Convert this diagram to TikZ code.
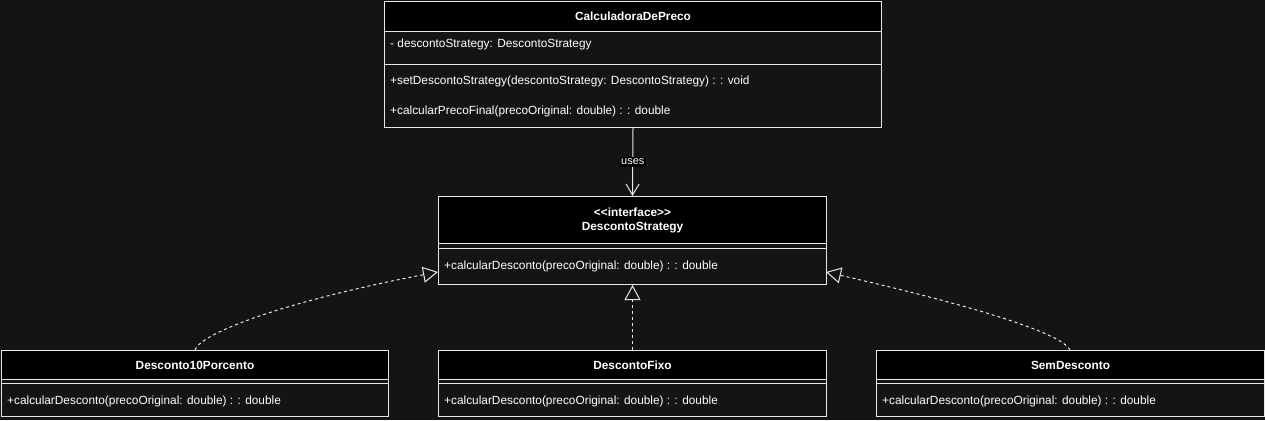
\documentclass[tikz,border=0pt]{standalone}
\usepackage{fontspec}
\setmainfont{Liberation Sans}
\usetikzlibrary{arrows.meta}
\definecolor{bg}{HTML}{141414}
\definecolor{linec}{HTML}{E8E8E8}
\newcommand{\fs}{\fontsize{11.85}{14}\selectfont}
\newcommand{\fss}{\fontsize{11}{13}\selectfont}
\tikzset{
  box/.style={draw=linec, fill=bg, line width=1pt, anchor=north west, inner sep=0pt},
  hdr/.style={draw=linec, fill=black, line width=1pt, anchor=north west, inner sep=0pt, font=\bfseries\fs, text=white, align=center},
  txt/.style={anchor=west, text=white, font=\fs, inner sep=0pt},
  sep/.style={draw=linec, line width=1pt},
  real/.style={draw=linec, line width=1pt, dash pattern=on 3pt off 3pt, -{Triangle[open, length=15pt, width=16pt, fill=bg]}},
  uses/.style={draw=linec, line width=1pt, -{Straight Barb[length=11pt, width=13pt]}},
}
\begin{document}
\begin{tikzpicture}[x=1pt,y=-1pt]
\fill[bg] (0,0) rectangle (1265,420);
\useasboundingbox (0,0) rectangle (1265,420);

% CalculadoraDePreco
\node[box, minimum width=497pt, minimum height=126pt] (calc) at (384,1) {};
\node[hdr, minimum width=497pt, minimum height=30pt] (calcH) at (384,1) {CalculadoraDePreco};
\draw[sep] (384,64) -- (881,64);
\node[txt] (calcA) at (390,44) {- descontoStrategy: DescontoStrategy};
\node[txt] (calcM1) at (390,81) {+setDescontoStrategy(descontoStrategy: DescontoStrategy) : : void};
\node[txt] (calcM2) at (390,111) {+calcularPrecoFinal(precoOriginal: double) : : double};

% DescontoStrategy
\node[box, minimum width=388pt, minimum height=88pt] (strat) at (438,196) {};
\node[hdr, minimum width=388pt, minimum height=47pt] (stratH) at (438,196) {<\kern0pt<\kern0pt interface>\kern0pt>\\DescontoStrategy};
\draw[sep] (438,248) -- (826,248);
\node[txt] (stratM) at (444,266) {+calcularDesconto(precoOriginal: double) : : double};

% Desconto10Porcento
\node[box, minimum width=387pt, minimum height=66pt] (d10) at (1,350) {};
\node[hdr, minimum width=387pt, minimum height=29pt] (d10H) at (1,350) {Desconto10Porcento};
\draw[sep] (1,383) -- (388,383);
\node[txt] (d10M) at (7,401) {+calcularDesconto(precoOriginal: double) : : double};

% DescontoFixo
\node[box, minimum width=388pt, minimum height=66pt] (fixo) at (438,350) {};
\node[hdr, minimum width=388pt, minimum height=29pt] (fixoH) at (438,350) {DescontoFixo};
\draw[sep] (438,383) -- (826,383);
\node[txt] (fixoM) at (444,401) {+calcularDesconto(precoOriginal: double) : : double};

% SemDesconto
\node[box, minimum width=388pt, minimum height=66pt] (sem) at (876,350) {};
\node[hdr, minimum width=388pt, minimum height=29pt] (semH) at (876,350) {SemDesconto};
\draw[sep] (876,383) -- (1264,383);
\node[txt] (semM) at (882,401) {+calcularDesconto(precoOriginal: double) : : double};

% connectors
\coordinate (lt) at (438,272);
\coordinate (rt) at (826,272);
\coordinate (ls) at (195,350);
\coordinate (rs) at (1070,350);
\draw[uses] (calc.south) -- node[fill=black, text=white, font=\fss, inner sep=1.5pt] (usesL) {uses} (strat.north);
\draw[real] (fixo.north) -- (strat.south);
\draw[real] (ls) .. controls (200,333) and (290,300) .. (lt);
\draw[real] (rs) .. controls (1062,333) and (970,305) .. (rt);
\end{tikzpicture}
\end{document}
